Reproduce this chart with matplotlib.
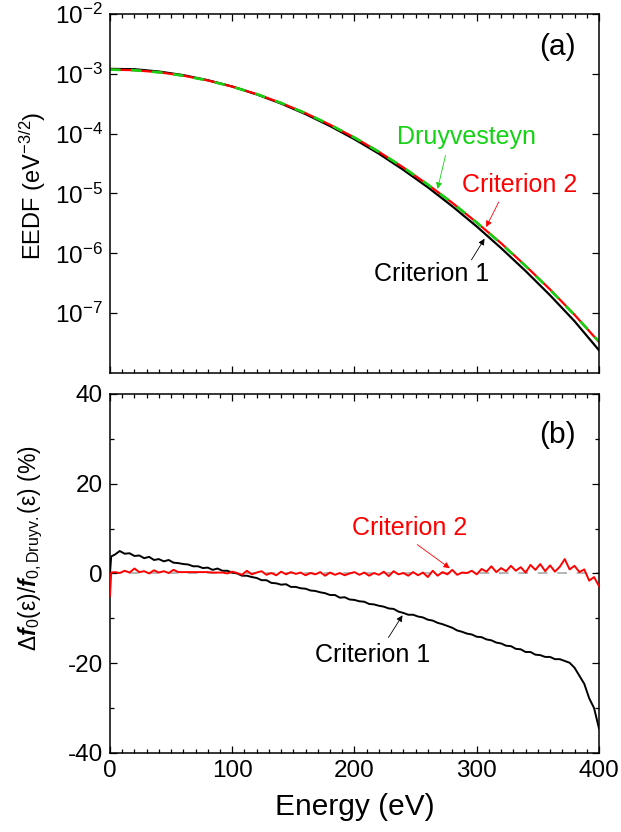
import numpy as np
import matplotlib
matplotlib.use("Agg")
import matplotlib.pyplot as plt

plt.rcParams['font.family'] = ['Liberation Sans', 'DejaVu Sans']
plt.rcParams['mathtext.fontset'] = 'custom'
plt.rcParams['mathtext.rm'] = 'Liberation Sans'
plt.rcParams['mathtext.it'] = 'Liberation Sans:italic'
plt.rcParams['mathtext.bf'] = 'Liberation Sans:bold'
plt.rcParams['mathtext.bfit'] = 'Liberation Sans:italic:bold'
plt.rcParams['axes.unicode_minus'] = False

# ---- panel (a): EEDF, every 20 eV ----
energy_a = [0, 20, 40, 60, 80, 100, 120, 140, 160, 180, 200,
            220, 240, 260, 280, 300, 320, 340, 360, 380, 400]
eedf_druyv = [1.175e-3, 1.146e-3, 1.059e-3, 9.29e-4, 7.73e-4, 6.11e-4, 4.58e-4,
              3.26e-4, 2.20e-4, 1.41e-4, 8.59e-5, 4.97e-5, 2.72e-5, 1.41e-5,
              6.97e-6, 3.27e-6, 1.45e-6, 6.12e-7, 2.45e-7, 9.31e-8, 3.36e-8]
eedf_crit2 = [1.175e-3, 1.149e-3, 1.062e-3, 9.31e-4, 7.75e-4, 6.12e-4, 4.58e-4,
              3.26e-4, 2.20e-4, 1.41e-4, 8.60e-5, 4.97e-5, 2.72e-5, 1.41e-5,
              6.99e-6, 3.27e-6, 1.47e-6, 6.18e-7, 2.49e-7, 9.40e-8, 3.30e-8]
eedf_crit1 = [1.21e-3, 1.193e-3, 1.092e-3, 9.50e-4, 7.82e-4, 6.13e-4, 4.53e-4,
              3.18e-4, 2.12e-4, 1.34e-4, 8.07e-5, 4.62e-5, 2.48e-5, 1.27e-5,
              6.12e-6, 2.81e-6, 1.22e-6, 5.06e-7, 1.99e-7, 7.35e-8, 2.40e-8]

# ---- panel (b): relative deviation (%) ----
energy_b = [0, 1] + list(range(4, 401, 4))
dev_crit1 = [0.0, 3.8, 4.2, 5.0, 4.4, 4.5, 3.9, 4.0, 3.4, 3.7, 3.0, 3.2, 2.7, 3.0, 2.4,
             2.3, 2.1, 2.0, 1.6, 1.6, 1.2, 1.3, 0.8, 1.1, 0.6, 0.6, 0.2, 0.0, -0.5,
             -0.5, -0.8, -1.0, -1.5, -1.5, -2.1, -2.2, -2.5, -2.4, -3.0, -3.0, -3.3,
             -3.4, -3.8, -3.9, -4.2, -4.4, -4.8, -4.8, -5.4, -5.3, -5.8, -5.9, -6.2,
             -6.3, -6.8, -6.9, -7.2, -7.4, -7.8, -7.9, -8.5, -8.8, -9.2, -9.2, -9.6,
             -9.8, -10.3, -10.5, -11.0, -11.3, -11.7, -12.1, -12.7, -13.0, -13.4,
             -13.6, -14.1, -14.2, -14.7, -14.9, -15.4, -15.6, -16.1, -16.2, -16.8,
             -16.9, -17.5, -17.5, -18.1, -18.2, -18.6, -18.6, -19.1, -19.1, -19.5,
             -19.9, -21.0, -22.8, -24.6, -27.8, -30.0, -34.5]
dev_crit2 = [-5.0, 0.2, 0.3, 0.1, 0.6, 0.2, 1.1, 0.3, 0.5, 0.0, 0.7, 0.2, 0.5, 0.1, 0.8,
             0.3, 0.3, 0.3, 0.3, 0.3, 0.3, 0.3, 0.2, 0.2, 0.2, 0.0, 0.4, 0.1, -0.3,
             0.6, -0.2, 0.2, 0.5, -0.3, 0.1, -0.4, 0.4, -0.2, 0.3, -0.1, 0.2, -0.4,
             0.1, -0.2, 0.3, -0.5, 0.2, -0.3, 0.1, -0.4, 0.0, 0.3, -0.3, 0.2, -0.5,
             0.1, -0.3, 0.4, -0.6, 0.5, -0.2, 0.1, -0.5, 0.3, -0.4, 0.2, -0.8, 0.6,
             -0.5, 0.3, -0.2, 0.8, -0.3, 0.2, 0.1, 0.6, -0.2, 1.0, 0.4, 1.6, 0.3, 1.2,
             0.5, 1.7, 0.6, 1.4, 0.2, 1.9, 0.8, 2.1, 0.5, 1.8, 0.4, 1.5, 3.2, 0.9, 1.7,
             0.3, 0.9, -1.6, -0.8, -2.8]

GREEN = '#14d214'
FS_TICK = 17.5
FS_LABEL = 17
FS_NOTE = 18

fig = plt.figure(figsize=(6.21, 8.32), dpi=100)
ax1 = fig.add_axes([0.1771, 0.5517, 0.7874, 0.4315])
ax2 = fig.add_axes([0.1771, 0.0950, 0.7874, 0.4315])

# panel (a)
ax1.plot(energy_a, eedf_crit1, color='black', lw=1.6)
ax1.plot(energy_a, eedf_crit2, color='red', lw=1.6)
ln, = ax1.plot(energy_a, eedf_druyv, color=GREEN, lw=1.9)
ln.set_dashes([4, 4])
ax1.set_yscale('log')
ax1.set_ylim(1e-8, 1e-2)
ax1.set_xlim(0, 400)
ax1.set_yticks([1e-2, 1e-3, 1e-4, 1e-5, 1e-6, 1e-7])
ax1.set_yticklabels([r'$\mathregular{10^{-%d}}$' % k for k in range(2, 8)])
ax1.yaxis.set_minor_locator(matplotlib.ticker.NullLocator())
ax1.set_xticks([0, 100, 200, 300, 400])
ax1.xaxis.set_minor_locator(matplotlib.ticker.MultipleLocator(10))
ax1.tick_params(labelbottom=False)
ax1.set_ylabel(r'EEDF (eV$^{-3/2}$)', fontsize=FS_LABEL)
ax1.yaxis.set_label_coords(-0.127, 0.52)

ax1.text(0.916, 0.908, '(a)', transform=ax1.transAxes, fontsize=21.5,
         ha='center', va='center')
ax1.text(292, 8.9e-5, 'Druyvesteyn', color=GREEN, fontsize=FS_NOTE, ha='center', va='center')
ax1.annotate('', xy=(267.5, 1.08e-5), xytext=(275, 4.8e-5),
             arrowprops=dict(arrowstyle='-|>', color=GREEN, lw=0.6, mutation_scale=9))
ax1.text(335.4, 1.41e-5, 'Criterion 2', color='red', fontsize=FS_NOTE, ha='center', va='center')
ax1.annotate('', xy=(306.7, 2.5e-6), xytext=(319, 7.9e-6),
             arrowprops=dict(arrowstyle='-|>', color='red', lw=0.6, mutation_scale=9))
ax1.text(263.4, 4.5e-7, 'Criterion 1', color='black', fontsize=FS_NOTE, ha='center', va='center')
ax1.annotate('', xy=(307.6, 1.92e-6), xytext=(294.5, 7.1e-7),
             arrowprops=dict(arrowstyle='-|>', color='black', lw=0.6, mutation_scale=9))

# panel (b)
ax2.axhline(0, color='#b4b4b4', lw=1.4, ls=(0, (5, 5)), zorder=1)
ax2.plot(energy_b, dev_crit1, color='black', lw=1.4, zorder=2)
ax2.plot(energy_b, dev_crit2, color='red', lw=1.4, zorder=3)
ax2.set_xlim(0, 400)
ax2.set_ylim(-40, 40)
ax2.set_xticks([0, 100, 200, 300, 400])
ax2.set_yticks([-40, -20, 0, 20, 40])
ax2.xaxis.set_minor_locator(matplotlib.ticker.MultipleLocator(10))
ax2.yaxis.set_minor_locator(matplotlib.ticker.MultipleLocator(10))
ax2.set_xlabel('Energy (eV)', fontsize=21.5, labelpad=8)
ax2.set_ylabel(r'Δ$\mathbfit{f}_{\mathit{0}}$(ε)/$\mathbfit{f}_{\mathit{0}\mathrm{,Druyv.}}$(ε) (%)',
               fontsize=16.5)
ax2.yaxis.set_label_coords(-0.133, 0.57)

ax2.text(0.916, 0.886, '(b)', transform=ax2.transAxes, fontsize=21.5,
         ha='center', va='center')
ax2.text(245.4, 10.1, 'Criterion 2', color='red', fontsize=FS_NOTE, ha='center', va='center')
ax2.annotate('', xy=(279.8, 0.8), xytext=(249.5, 6.8),
             arrowprops=dict(arrowstyle='-|>', color='red', lw=0.6, mutation_scale=9))
ax2.text(215, -18.2, 'Criterion 1', color='black', fontsize=FS_NOTE, ha='center', va='center')
ax2.annotate('', xy=(240.5, -8.8), xytext=(226.6, -14.8),
             arrowprops=dict(arrowstyle='-|>', color='black', lw=0.6, mutation_scale=9))

for ax in (ax1, ax2):
    for sp in ax.spines.values():
        sp.set_linewidth(1.1)
    ax.tick_params(which='both', direction='in', top=True, right=True,
                   labelsize=FS_TICK, width=0.9, pad=5)
    ax.tick_params(which='major', length=5)
    ax.tick_params(which='minor', length=3)

fig.savefig('out.png', dpi=100)
